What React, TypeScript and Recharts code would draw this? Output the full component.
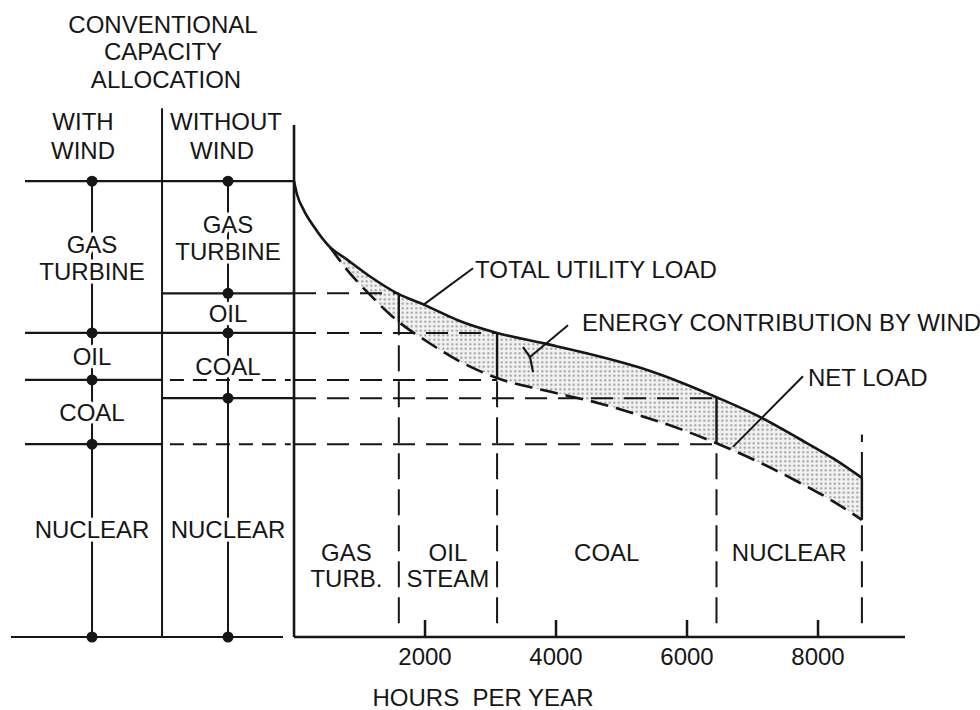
import React from 'react';
import { ComposedChart, Line, Area, XAxis, YAxis, ReferenceLine, ReferenceDot } from 'recharts';

// load duration curve, hours per year vs. load (% of peak)
const HOURS = [0, 50, 150, 300, 550, 800, 1150, 1600, 2000, 2500, 3100, 3850, 4650, 5300, 5900, 6450, 7150, 7700, 8250, 8670];
const TOTAL_LOAD = [100, 96.9, 93.6, 90.1, 85.5, 82.9, 79.2, 75.2, 72.8, 69.5, 66.7, 64.3, 61.6, 59.0, 55.9, 52.6, 48.0, 43.6, 39.0, 34.9];
const NET_LOAD = [null, null, null, null, 85.5, 80.7, 75.2, 69.1, 65.1, 60.7, 56.8, 54.0, 51.3, 48.5, 45.6, 42.5, 38.0, 34.0, 29.6, 25.7];
const X_TICKS = [2000, 4000, 6000, 8000];

// plant blocks along the curve
const BLOCK_HOURS = [0, 1600, 3100, 6450, 8670];
const BLOCK_NAMES = [['GAS', 'TURB.'], ['OIL', 'STEAM'], ['COAL'], ['NUCLEAR']];

// capacity allocation columns
const WITH_WIND_LEVELS = [100, 66.7, 56.4, 42.3, 0];
const WITHOUT_WIND_LEVELS = [100, 75.4, 66.7, 52.4, 0];
const CAPACITY_NAMES = [['GAS', 'TURBINE'], ['OIL'], ['COAL'], ['NUCLEAR']];

// layout of the x scale (hours) incl. the panel left of the axis
const X_MIN = -4321;
const X_MAX = 9328;
const Y_MAX = 117.8;
const PANEL_EDGE = -4107;
const PANEL_BOTTOM_EDGE = -4321;
const DIVIDER = -2015;
const AXIS_GAP = -168;
const STEM_WITH = -3084;
const STEM_WITHOUT = -1008;

const FONT = '"Liberation Sans", Arial, sans-serif';
const INK = '#161616';

const rows = HOURS.map((h, i) => ({
  h,
  total: TOTAL_LOAD[i],
  net: NET_LOAD[i],
  band: NET_LOAD[i] == null ? null : [NET_LOAD[i], TOTAL_LOAD[i]],
}));

const valueAt = (arr: (number | null)[], h: number) => arr[HOURS.indexOf(h)] as number;

function textShape(lines: string[], anchor: 'start' | 'middle' = 'middle', gap = 27) {
  return (p: any) => (
    <text
      x={p.cx}
      y={p.cy}
      textAnchor={anchor}
      dominantBaseline="central"
      fontFamily={FONT}
      fontSize={24}
      fill={INK}
      stroke="#fff"
      strokeWidth={7}
      strokeLinejoin="round"
      paintOrder="stroke"
    >
      {lines.map((l, i) => (
        <tspan key={i} x={p.cx} y={p.cy + (i - (lines.length - 1) / 2) * gap} dominantBaseline="central">
          {l}
        </tspan>
      ))}
    </text>
  );
}

const renderTick = (p: any) => (
  <g>
    <line x1={p.x} x2={p.x} y1={p.y} y2={p.y - 17} stroke={INK} strokeWidth={2.5} />
    <text x={p.x} y={p.y + 19} textAnchor="middle" dominantBaseline="central" fontFamily={FONT} fontSize={24} fill={INK}>
      {p.payload.value}
    </text>
  </g>
);

function seg(key: string, x1: number, y1: number, x2: number, y2: number, dash?: string, w = 2.2) {
  return (
    <ReferenceLine
      key={key}
      segment={[{ x: x1, y: y1 }, { x: x2, y: y2 }]}
      stroke={INK}
      strokeWidth={w}
      strokeDasharray={dash}
      ifOverflow="visible"
    />
  );
}

function panelColumn(id: string, levels: number[], left: number, right: number, stem: number, bottomLeft: number, bottomRight: number) {
  const items: React.ReactNode[] = [];
  items.push(seg(id + 'stem', stem, 0, stem, 100, undefined, 2));
  levels.forEach((lv, i) => {
    const isBottom = lv === 0;
    items.push(seg(id + 'lv' + i, isBottom ? bottomLeft : left, lv, isBottom ? bottomRight : right, lv, undefined, 2.2));
    items.push(<ReferenceDot key={id + 'dot' + i} x={stem} y={lv} r={5.5} fill={INK} stroke="none" ifOverflow="visible" />);
  });
  return items;
}

export default function App() {
  const guides: React.ReactNode[] = [];
  [WITH_WIND_LEVELS, WITHOUT_WIND_LEVELS].forEach((levels, c) => {
    levels.slice(1, 4).forEach((lv, i) => {
      guides.push(seg('g' + c + i, 0, lv, BLOCK_HOURS[i + 1], lv, '22 11', 2));
    });
  });
  // with-wind levels shown dashed in the without-wind column
  WITH_WIND_LEVELS.filter((lv) => !WITHOUT_WIND_LEVELS.includes(lv)).forEach((lv, i) => {
    guides.push(seg('pd' + i, DIVIDER + 120, lv, -50, lv, '14 9', 2));
  });

  const bounds: React.ReactNode[] = [];
  BLOCK_HOURS.slice(1).forEach((h, i) => {
    const net = valueAt(NET_LOAD, h);
    const tot = valueAt(TOTAL_LOAD, h);
    bounds.push(seg('bd' + i, h, 3, h, net, '26 10', 2));
    bounds.push(seg('bs' + i, h, net, h, tot, undefined, 2.4));
    if (i === BLOCK_HOURS.length - 2) bounds.push(seg('bt' + i, h, tot, h, tot + 9.5, '26 10', 2));
  });

  // the base-load row shares one label height in both columns
  const lastRow = CAPACITY_NAMES.length - 1;
  const baseMid =
    (WITH_WIND_LEVELS[lastRow] + WITHOUT_WIND_LEVELS[lastRow]) / 4;

  const panelLabels: React.ReactNode[] = [];
  [
    { id: 'w', levels: WITH_WIND_LEVELS, stem: STEM_WITH },
    { id: 'o', levels: WITHOUT_WIND_LEVELS, stem: STEM_WITHOUT },
  ].forEach((col) => {
    CAPACITY_NAMES.forEach((name, i) => {
      const mid = i === lastRow ? baseMid : (col.levels[i] + col.levels[i + 1]) / 2;
      panelLabels.push(
        <ReferenceDot key={col.id + 'name' + i} x={col.stem} y={mid} r={1} ifOverflow="visible" shape={textShape(name)} />
      );
    });
  });

  const blockLabels = BLOCK_NAMES.map((name, i) => (
    <ReferenceDot
      key={'blk' + i}
      x={(BLOCK_HOURS[i] + BLOCK_HOURS[i + 1]) / 2}
      y={name.length > 1 ? 15.8 : 18.6}
      r={1}
      ifOverflow="visible"
      shape={textShape(name, 'middle', 26)}
    />
  ));

  const header: [string, number, number][] = [
    ['CONVENTIONAL', 163, 25],
    ['CAPACITY', 163, 52],
    ['ALLOCATION', 166, 80],
    ['WITH', 83, 122],
    ['WIND', 83, 151],
    ['WITHOUT', 226, 122],
    ['WIND', 222, 151],
    ['HOURS  PER YEAR', 483, 698],
  ];

  return (
    <div style={{ position: 'absolute', left: 0, top: 0, width: 980, height: 710, background: '#fff' }}>
      <ComposedChart width={980} height={710} data={rows} margin={{ top: 100, right: 75, bottom: 72, left: 11 }}>
        <defs>
          <pattern id="dots" width="4.5" height="4.5" patternUnits="userSpaceOnUse">
            <rect width="4.5" height="4.5" fill="#e9e9e9" />
            <circle cx="2.25" cy="2.25" r="1.1" fill="#555" />
          </pattern>
        </defs>
        <XAxis
          dataKey="h"
          type="number"
          domain={[X_MIN, X_MAX]}
          allowDataOverflow
          ticks={X_TICKS}
          interval={0}
          axisLine={false}
          tickLine={false}
          tickSize={0}
          tickMargin={0}
          height={1}
          tick={renderTick}
        />
        <YAxis hide width={0} type="number" domain={[0, Y_MAX]} allowDataOverflow />

        <Area dataKey="band" type="monotone" fill="url(#dots)" stroke="none" isAnimationActive={false} />

        {guides}
        {bounds}

        {/* axes */}
        {seg('xaxis', 0, 0, X_MAX, 0, undefined, 2.6)}
        {seg('yaxis', 0, 0, 0, 112.3, undefined, 2.6)}

        {/* allocation panel */}
        {seg('divider', DIVIDER, 0, DIVIDER, 116, undefined, 2)}
        {panelColumn('w', WITH_WIND_LEVELS, PANEL_EDGE, DIVIDER, STEM_WITH, PANEL_BOTTOM_EDGE, DIVIDER)}
        {panelColumn('o', WITHOUT_WIND_LEVELS, DIVIDER, 0, STEM_WITHOUT, DIVIDER, AXIS_GAP)}

        <Line dataKey="total" type="monotone" stroke={INK} strokeWidth={2.6} dot={false} isAnimationActive={false} />
        <Line dataKey="net" type="monotone" stroke={INK} strokeWidth={2.6} strokeDasharray="18 8" dot={false} isAnimationActive={false} />

        {/* leaders */}
        {seg('l1', 1969, 72.8, 2733, 80.9, undefined, 2)}
        {seg('l2', 4183, 68.4, 3603, 61.4, undefined, 2)}
        {seg('l2a', 3603, 61.4, 3496, 63.6, undefined, 2.2)}
        {seg('l2b', 3603, 61.4, 3649, 58.1, undefined, 2.2)}
        {seg('l3', 7771, 57.2, 6702, 41.7, undefined, 2)}

        <ReferenceDot x={2763} y={80.7} r={1} ifOverflow="visible" shape={textShape(['TOTAL UTILITY LOAD'], 'start')} />
        <ReferenceDot x={4397} y={69.1} r={1} ifOverflow="visible" shape={textShape(['ENERGY CONTRIBUTION BY WIND'], 'start')} />
        <ReferenceDot x={7847} y={57.0} r={1} ifOverflow="visible" shape={textShape(['NET LOAD'], 'start')} />

        {panelLabels}
        {blockLabels}
      </ComposedChart>
      {header.map(([t, x, y], i) => (
        <div
          key={i}
          style={{
            position: 'absolute',
            left: x,
            top: y,
            transform: 'translate(-50%, -50%)',
            fontFamily: FONT,
            fontSize: 24,
            color: INK,
            whiteSpace: 'pre',
            lineHeight: '18px',
          }}
        >
          {t}
        </div>
      ))}
    </div>
  );
}
